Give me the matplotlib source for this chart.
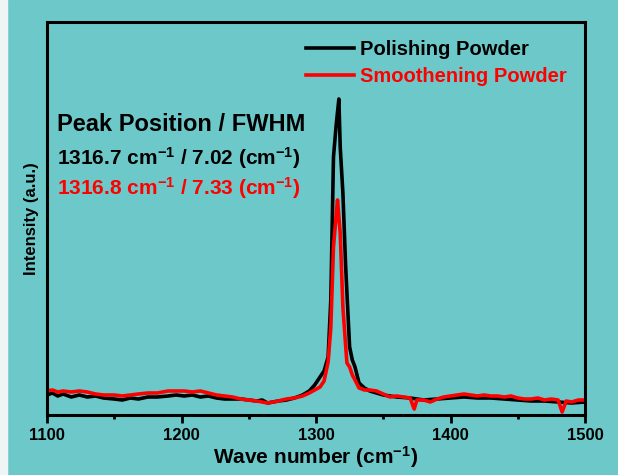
import matplotlib
matplotlib.use("Agg")
import matplotlib.pyplot as plt
from matplotlib.patches import Rectangle
from matplotlib.ticker import MultipleLocator

BG = "#6dc9c9"

# wave numbers (cm-1) and intensities (a.u.)
wn_polish = [1100, 1104, 1108, 1112, 1118, 1124, 1130, 1136, 1142, 1150, 1156,
             1162, 1168, 1175, 1182, 1190, 1196, 1202, 1208, 1214, 1220, 1226,
             1232, 1238, 1244, 1250, 1256, 1260, 1264, 1268, 1272, 1278, 1284,
             1290, 1295, 1299, 1303, 1306, 1309, 1311, 1313, 1315, 1317, 1318,
             1320, 1322, 1323, 1325, 1327, 1329, 1332, 1336, 1340, 1345, 1350,
             1360, 1370, 1380, 1390, 1400, 1410, 1420, 1430, 1440, 1450, 1460,
             1470, 1480, 1490, 1500]
int_polish = [20, 22, 19, 21, 18, 20, 18, 19, 17, 16, 15,
              17, 16, 18, 18, 19, 20, 19, 20, 18, 19, 17,
              16, 16, 16, 15, 14, 15, 12, 13, 14, 15, 17,
              20, 24, 30, 38, 44, 58, 115, 258, 290, 316, 268,
              222, 150, 122, 68, 55, 48, 32, 27, 24, 22, 20,
              18, 17, 15, 16, 17, 18, 17, 17, 16, 15, 14,
              14, 13, 12, 13]

wn_smooth = [1100, 1104, 1108, 1112, 1118, 1124, 1130, 1136, 1142, 1150, 1156,
             1162, 1168, 1175, 1182, 1190, 1196, 1202, 1208, 1214, 1220, 1226,
             1232, 1238, 1244, 1250, 1256, 1260, 1264, 1268, 1272, 1278, 1284,
             1290, 1295, 1299, 1303, 1306, 1309, 1311, 1313, 1315, 1316, 1318,
             1320, 1322, 1323, 1325, 1327, 1329, 1332, 1336, 1340, 1345, 1350,
             1355, 1360, 1365, 1370, 1373, 1375, 1380, 1385, 1390, 1395, 1400,
             1405, 1410, 1415, 1420, 1425, 1430, 1435, 1440, 1445, 1450, 1455,
             1460, 1465, 1470, 1475, 1480, 1483, 1486, 1490, 1495, 1500]
int_smooth = [24, 25, 23, 24, 23, 24, 23, 21, 20, 20, 19,
              20, 21, 22, 22, 24, 24, 24, 23, 24, 22, 20,
              19, 18, 16, 15, 14, 13, 12, 13, 14, 16, 17,
              19, 22, 25, 28, 34, 53, 87, 168, 200, 215, 182,
              108, 70, 52, 48, 40, 35, 27, 25, 25, 24, 21,
              18, 19, 18, 17, 6, 15, 15, 13, 16, 18, 19,
              20, 21, 20, 19, 20, 19, 19, 18, 19, 17, 16,
              16, 17, 15, 16, 15, 3, 14, 13, 15, 15]

xticks = [1100, 1200, 1300, 1400, 1500]
xticklabels = ["1100", "1200", "1300", "1400", "1500"]

plt.rcParams["font.family"] = ["Liberation Sans", "DejaVu Sans"]
plt.rcParams["font.weight"] = "bold"
plt.rcParams["mathtext.fontset"] = "custom"
plt.rcParams["mathtext.rm"] = "Liberation Sans:bold"
plt.rcParams["mathtext.bf"] = "Liberation Sans:bold"
plt.rcParams["mathtext.default"] = "bf"

fig = plt.figure(figsize=(6.18, 4.75), dpi=100, facecolor=BG)
fig.patches.append(Rectangle((0, 0), 7 / 618, 1, transform=fig.transFigure,
                             color="#eef5f4", zorder=-1))
ax = fig.add_axes([47 / 618, 1 - 415 / 475, 538 / 618, 393 / 475])
ax.set_facecolor(BG)

ax.plot(wn_polish, int_polish, color="black", lw=2.6, label="Polishing Powder")
ax.plot(wn_smooth, int_smooth, color="red", lw=2.6, label="Smoothening Powder")

ax.set_xlim(1100, 1500)
ax.set_ylim(0, 393)
ax.set_yticks([])
ax.set_xticks(xticks)
ax.set_xticklabels(xticklabels, fontsize=12, fontweight="bold")
ax.xaxis.set_minor_locator(MultipleLocator(50))
ax.tick_params(axis="x", which="major", direction="out", length=6, width=2, pad=3)
ax.tick_params(axis="x", which="minor", direction="out", length=3, width=2)
for sp in ax.spines.values():
    sp.set_linewidth(2.2)

ax.set_xlabel("Wave number (cm$^{-1}$)", fontsize=15, fontweight="bold", labelpad=1)
ax.set_ylabel("Intensity (a.u.)", fontsize=12, fontweight="bold", labelpad=6)

leg = ax.legend(loc="upper right", frameon=False, fontsize=14.5, handlelength=2.4,
                handletextpad=0.3, borderaxespad=0.5, labelspacing=0.4,
                borderpad=0.4)
for txt, c in zip(leg.get_texts(), ["black", "red"]):
    txt.set_color(c)
    txt.set_fontweight("bold")

ax.text(0.018, 0.740, "Peak Position / FWHM", transform=ax.transAxes,
        fontsize=17, fontweight="bold", color="black", va="center")
ax.text(0.018, 0.654, "1316.7 cm$^{-1}$ / 7.02 (cm$^{-1}$)", transform=ax.transAxes,
        fontsize=15, fontweight="bold", color="black", va="center")
ax.text(0.018, 0.578, "1316.8 cm$^{-1}$ / 7.33 (cm$^{-1}$)", transform=ax.transAxes,
        fontsize=15, fontweight="bold", color="red", va="center")

fig.savefig("out.png", dpi=100, facecolor=BG)
